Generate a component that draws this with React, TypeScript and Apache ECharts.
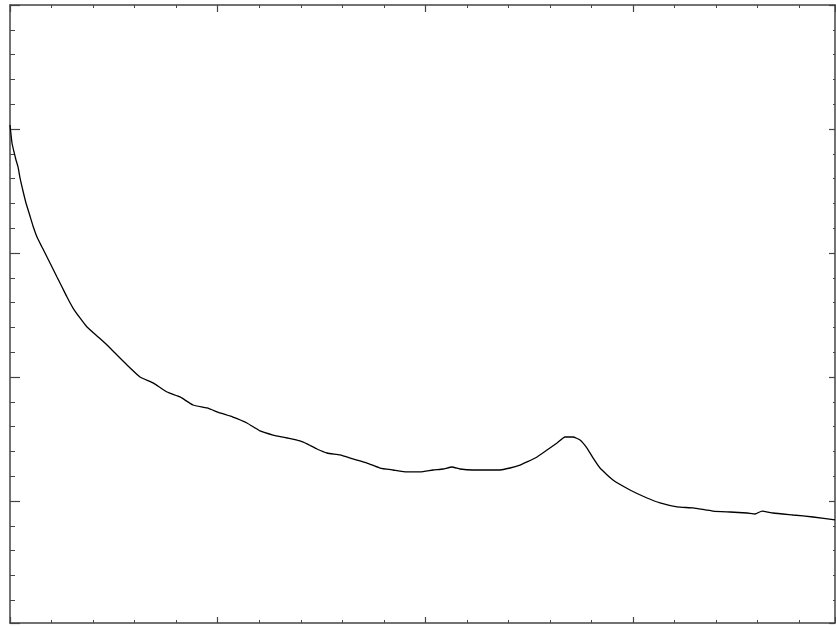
import React, { useEffect, useRef } from "react";
import * as echarts from "echarts";

// x positions (arbitrary units, major tick every 5)
const xValues: number[] = [
  0, 0.048, 0.096, 0.144, 0.193, 0.241, 0.313, 0.385, 0.481, 0.554, 0.65, 0.77, 0.891, 1.011, 1.131,
  1.252, 1.372, 1.517, 1.685, 1.854, 2.094, 2.335, 2.576, 2.817, 3.13, 3.442, 3.78, 4.092, 4.405,
  4.742, 5.055, 5.368, 5.705, 6.018, 6.331, 6.668, 6.981, 7.15, 7.391, 7.631, 7.944, 8.257, 8.594,
  8.907, 9.22, 9.557, 9.87, 10.183, 10.424, 10.64, 10.833, 11.146, 11.483, 11.796, 12.037, 12.278,
  12.446, 12.687, 12.928, 13.168, 13.361, 13.553, 13.722, 13.89, 14.035, 14.203, 14.516, 14.925,
  15.335, 15.648, 16.057, 16.442, 16.923, 17.333, 17.742, 17.935, 18.103, 18.368, 18.849, 19.331,
  19.86,
];

// intensity values (arbitrary units, major tick every 1)
const yValues: number[] = [
  4.032, 3.887, 3.815, 3.75, 3.694, 3.605, 3.5, 3.403, 3.298, 3.218, 3.129, 3.048, 2.968, 2.887, 2.806,
  2.726, 2.645, 2.556, 2.476, 2.403, 2.331, 2.258, 2.177, 2.097, 2.0, 1.952, 1.879, 1.839, 1.774,
  1.75, 1.71, 1.677, 1.629, 1.565, 1.532, 1.508, 1.484, 1.46, 1.419, 1.387, 1.371, 1.339, 1.306,
  1.266, 1.25, 1.234, 1.234, 1.25, 1.258, 1.274, 1.258, 1.25, 1.25, 1.25, 1.266, 1.29,
  1.315, 1.355, 1.411, 1.468, 1.516, 1.516, 1.492, 1.427, 1.347, 1.266, 1.169, 1.089,
  1.024, 0.984, 0.952, 0.944, 0.919, 0.911, 0.903, 0.895, 0.919, 0.903, 0.887, 0.871,
  0.847,
];

const X_MIN = 0;
const X_MAX = 19.86;
const Y_MIN = 0.016;
const Y_MAX = 5;

const AXIS_COLOR = "#444";

function makeAxis(
  position: string,
  majorLen: number,
  minorLen: number,
  min: number,
  max: number,
  step: number
) {
  return {
    type: "value",
    position,
    min,
    max,
    minInterval: step,
    maxInterval: step,
    splitNumber: 5,
    axisLine: { show: true, onZero: false, lineStyle: { color: AXIS_COLOR, width: 1.5 } },
    axisTick: { show: true, inside: true, length: majorLen, lineStyle: { color: AXIS_COLOR, width: 1.2 } },
    minorTick: { show: true, splitNumber: 5, length: minorLen, lineStyle: { color: AXIS_COLOR, width: 1 } },
    axisLabel: { show: false },
    splitLine: { show: false },
    minorSplitLine: { show: false },
  } as any;
}

export default function App() {
  const ref = useRef<HTMLDivElement>(null);
  useEffect(() => {
    document.body.style.margin = "0";
    if (!ref.current) return;
    const chart = echarts.init(ref.current, undefined, { renderer: "svg" });
    const data = xValues.map((x, i) => [x, yValues[i]]);
    chart.setOption({
      animation: false,
      backgroundColor: "#ffffff",
      grid: { left: 10, right: 1, top: 5, bottom: 3, containLabel: false },
      xAxis: [
        makeAxis("bottom", 6, 3, X_MIN, X_MAX, 5),
        makeAxis("top", 7, 3, X_MIN, X_MAX, 5),
      ],
      yAxis: [
        makeAxis("left", 10, 5, Y_MIN, Y_MAX, 1),
        makeAxis("right", 6, 2, Y_MIN, Y_MAX, 1),
      ],
      series: [
        {
          type: "line",
          xAxisIndex: 0,
          yAxisIndex: 0,
          data,
          showSymbol: false,
          symbol: "none",
          smooth: 0.15,
          lineStyle: { color: "#000000", width: 1.3 },
        },
      ],
    });
    return () => chart.dispose();
  }, []);
  return <div ref={ref} style={{ width: 836, height: 626 }} />;
}
